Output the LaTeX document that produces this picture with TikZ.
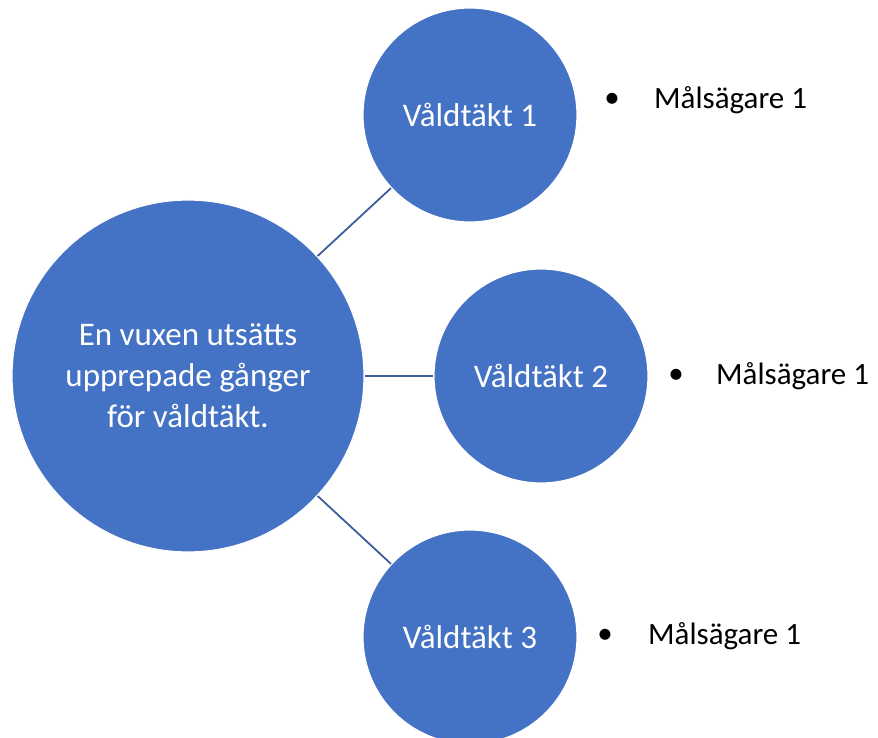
\documentclass[tikz,border=0pt]{standalone}
\usepackage{fontspec}
\setmainfont{Carlito}
\definecolor{circfill}{HTML}{4472C4}
\definecolor{linkcol}{HTML}{3A5E9E}
\begin{document}
\begin{tikzpicture}[x=1pt,y=-1pt,
  bubble/.style={circle,fill=circfill,draw=white,line width=1.2pt,inner sep=0pt,text=white,align=center,font=\fontsize{33}{41}\selectfont},
  big/.style={bubble,minimum size=352pt},
  small/.style={bubble,minimum size=214pt},
  link/.style={draw=linkcol,line width=1.8pt},
  bul/.style={inner sep=0pt,anchor=center,font=\fontsize{31}{37}\selectfont},
  item/.style={inner sep=0pt,anchor=west,font=\fontsize{31}{37}\selectfont}]
\useasboundingbox (0,0) rectangle (878,738);
\node[big] (main) at (188,376) {En vuxen utsätts\\upprepade gånger\\för våldtäkt.};
\node[small] (c1) at (470,115) {Våldtäkt 1};
\node[small] (c2) at (541,376) {Våldtäkt 2};
\node[small] (c3) at (470,637) {Våldtäkt 3};
\draw[link] (main) -- (c1);
\draw[link] (main) -- (c2);
\draw[link] (main) -- (c3);
\node[bul] (b1) at (612,100) {•};
\node[item] (t1) at (654,100) {Målsägare 1};
\node[bul] (b2) at (676,376) {•};
\node[item] (t2) at (716,376) {Målsägare 1};
\node[bul] (b3) at (605,636) {•};
\node[item] (t3) at (648,636) {Målsägare 1};
\end{tikzpicture}
\end{document}
